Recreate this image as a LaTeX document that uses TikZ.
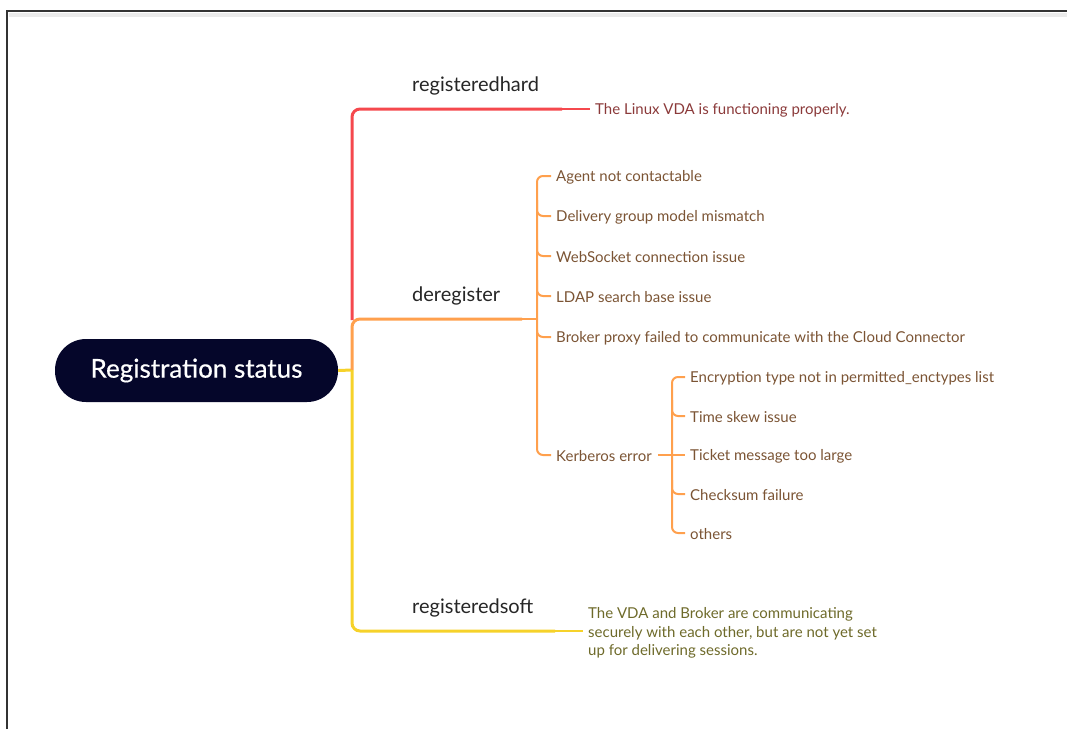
\documentclass[tikz,border=0pt]{standalone}
\usepackage{fontspec}
\setmainfont{Lato}
\definecolor{rootbg}{HTML}{05062A}
\definecolor{lred}{HTML}{F5484D}
\definecolor{lorange}{HTML}{FFA04D}
\definecolor{lyellow}{HTML}{F6D22A}
\definecolor{tred}{HTML}{8B3A3A}
\definecolor{tbrown}{HTML}{7B5434}
\definecolor{tolive}{HTML}{6E6A2A}
\definecolor{frame}{HTML}{333333}
\tikzset{
  rootbox/.style={fill=rootbg, rounded corners=31pt, minimum width=283pt, minimum height=63pt, text=white, font=\fontsize{26}{30}\selectfont\addfontfeature{FakeBold=0.5}, inner sep=0pt},
  branchlabel/.style={anchor=west, inner sep=0pt, text=black!85, font=\fontsize{20}{24}\selectfont},
  leaf/.style={anchor=west, inner sep=0pt, font=\fontsize{15}{18}\selectfont},
  thick1/.style={line width=3pt, rounded corners=8pt},
  thin1/.style={line width=1.6pt},
  sub/.style={line width=2pt, rounded corners=6pt, lorange, shorten >=5pt},
}
\begin{document}
\begin{tikzpicture}[x=1pt,y=-1pt]
\useasboundingbox (0,0) rectangle (1067,729);
% frame
\fill[black!8] (9,13) rectangle (1067,17);
\draw[frame, line width=1.5pt] (7,729) -- (7,11) -- (1067,11);

% root
\node[rootbox] (root) at (196.5,370.5) {Registration status};

% junctions
\coordinate (j) at (352,370);
\coordinate (redend) at (562,109);
\coordinate (orend) at (522,319);
\coordinate (yelend) at (555,631);
\coordinate (obr) at (537,319);

% labels
\node[branchlabel] (hard) at (412,86) {registeredhard};
\node[branchlabel] (dereg) at (412,296) {deregister};
\node[branchlabel] (soft) at (412,608) {registeredsoft};

% leaves
\node[leaf, text=tred] (linux) at (595,110) {The Linux VDA is functioning properly.};
\node[leaf, text=tbrown] (agent) at (556,177) {Agent not contactable};
\node[leaf, text=tbrown] (deliv) at (556,217) {Delivery group model mismatch};
\node[leaf, text=tbrown] (websock) at (556,257) {WebSocket connection issue};
\node[leaf, text=tbrown] (ldap) at (556,297.5) {LDAP search base issue};
\node[leaf, text=tbrown] (broker) at (556,338) {Broker proxy failed to communicate with the Cloud Connector};
\node[leaf, text=tbrown] (kerb) at (556,456) {Kerberos error};
\node[leaf, text=tbrown] (enc) at (690,378) {Encryption type not in permitted\_enctypes list};
\node[leaf, text=tbrown] (skew) at (690,417) {Time skew issue};
\node[leaf, text=tbrown] (ticket) at (690,456) {Ticket message too large};
\node[leaf, text=tbrown] (cksum) at (690,495) {Checksum failure};
\node[leaf, text=tbrown] (others) at (690,534) {others};
\node[leaf, text=tolive, align=left, font=\fontsize{15}{18.5}\selectfont] (softtxt) at (588,633) {The VDA and Broker are communicating\\securely with each other, but are not yet set\\up for delivering sessions.};

% main branches
\draw[lyellow, line width=3pt] (root.east) -- (j);
\draw[lred, thick1] (352,320) -- (352,109) -- (redend);
\draw[lred, thin1] (redend) -- ([xshift=-5pt]linux.west |- redend);
\draw[lorange, thick1] (j) -- (352,319) -- (orend);
\draw[lorange, thin1] (orend) -- (obr);
\draw[lyellow, thick1] (j) -- (352,631) -- (yelend);
\draw[lyellow, thin1] (yelend) -- ([xshift=-5pt]softtxt.west |- yelend);

% deregister bracket
\draw[sub] (537,300) -- (537,176) -- (agent.west |- 0,176);
\draw[sub] (537,330) -- (537,455) -- (kerb.west |- 0,455);
\draw[sub] (537,200) |- (deliv.west |- 0,216);
\draw[sub] (537,240) |- (websock.west |- 0,256);
\draw[sub] (537,280) |- (ldap.west |- 0,296);
\draw[sub] (537,300) |- (broker.west |- 0,337);

% kerberos bracket
\draw[lorange, line width=2pt, shorten >=5pt] ([xshift=6pt]kerb.east |- 0,455) -- (ticket.west |- 0,455);
\draw[sub] (672,450) -- (672,377) -- (enc.west |- 0,377);
\draw[sub] (672,450) -- (672,533) -- (others.west |- 0,533);
\draw[sub] (672,400) |- (skew.west |- 0,416);
\draw[sub] (672,480) |- (cksum.west |- 0,494);
\end{tikzpicture}
\end{document}
